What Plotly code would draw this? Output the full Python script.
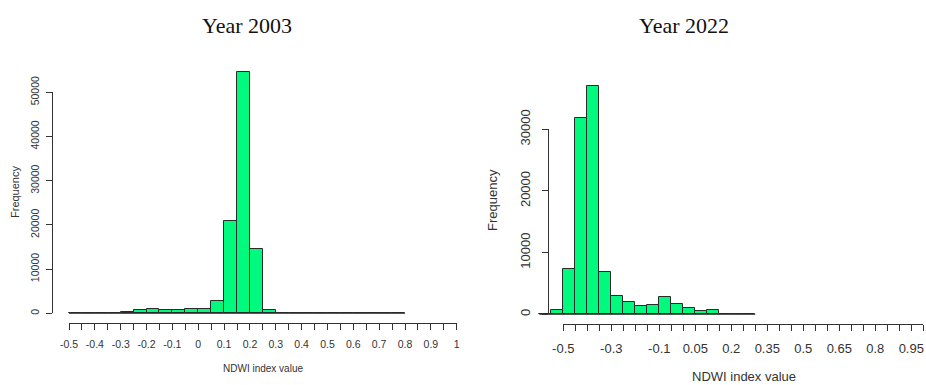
import numpy as np
import plotly.graph_objects as go

# ---------------- data ----------------
titles = ["Year 2003", "Year 2022"]
bin_width = 0.05
start_2003 = -0.5
counts_2003 = [0, 0, 0, 120, 380, 830, 980, 750, 750, 980, 980, 2870,
               20900, 54500, 14550, 680, 100, 60, 50, 50, 40, 0, 0, 0, 0, 0]
start_2022 = -0.6
counts_2022 = [0, 650, 7400, 31900, 37000, 6860, 3030, 1950, 1400, 1570,
               2810, 1680, 1080, 540, 650, 100, 30, 0]
xlabels_2003 = ["-0.5", "-0.4", "-0.3", "-0.2", "-0.1", "0", "0.1", "0.2", "0.3",
                "0.4", "0.5", "0.6", "0.7", "0.8", "0.9", "1"]
xlabels_2022 = ["-0.5", "-0.3", "-0.1", "0.05", "0.2", "0.35", "0.5", "0.65",
                "0.8", "0.95"]
yticks_2003 = [0, 10000, 20000, 30000, 40000, 50000]
yticks_2022 = [0, 10000, 20000, 30000]
x_axis_min, x_axis_max = -0.5, 1.0
xtitle = "NDWI index value"
ytitle = "Frequency"

W, H = 926, 385
FILL = "#00FA7D"
EDGE = "#2b2b2b"
AX = "#333333"
FONT = "Liberation Sans, Arial, sans-serif"


def px(x):
    return x / W


def py(y):
    return 1 - y / H


def tick_setup(labels):
    vals = np.round(np.arange(x_axis_min, x_axis_max + 1e-9, 0.05), 2)
    lab = {float(l): l for l in labels}
    text = [lab.get(float(v), "") for v in vals]
    return list(vals), text


fig = go.Figure()

# --------------- panel geometry (pixels) ---------------
panels = [
    dict(counts=counts_2003, start=start_2003, labels=xlabels_2003, yt=yticks_2003,
         k=258.4, xm05=69.0, s=44.2 / 10000, y0=313.3, yaxis_px=53.0,
         xline_px=323.0, bar_dom=(53, 462), bar_top=62, xdeco=(69, 456.7),
         fs_tick=10.5, fs_title=10, fs_freq=11, xt_x=263, xt_y=368, fr_x=15, fr_y=192,
         title_x=247, standoff_x=5, standoff_y=3),
    dict(counts=counts_2022, start=start_2022, labels=xlabels_2022, yt=yticks_2022,
         k=240.0, xm05=563.3, s=61.67 / 10000, y0=314.3, yaxis_px=549.3,
         xline_px=324.3, bar_dom=(530, 926), bar_top=70, xdeco=(563.3, 923.3),
         fs_tick=13, fs_title=13, fs_freq=13, xt_x=744, xt_y=376, fr_x=493, fr_y=200,
         title_x=684, standoff_x=6, standoff_y=7),
]

layout = dict(width=W, height=H, margin=dict(l=0, r=0, t=0, b=0, pad=0),
              autosize=False, template="none",
              paper_bgcolor="white", plot_bgcolor="rgba(0,0,0,0)",
              showlegend=False, bargap=0, barmode="overlay")
annotations = []

for i, p in enumerate(panels):
    n = 3 * i  # axis index base
    xb, yb = n + 1, n + 1          # bar axes
    xd = n + 2                     # decorative x axis (anchored to bar y)
    yd, xh = n + 3, n + 3          # decorative y axis and hidden partner x axis
    counts = p["counts"]
    centers = [p["start"] + bin_width * (j + 0.5) for j in range(len(counts))]
    xa = "x" if xb == 1 else f"x{xb}"
    ya = "y" if yb == 1 else f"y{yb}"
    fig.add_trace(go.Bar(x=centers, y=counts, width=bin_width, xaxis=xa, yaxis=ya,
                         marker=dict(color=FILL, line=dict(color=EDGE, width=1)),
                         hoverinfo="x+y"))
    edges = [p["start"], p["start"] + bin_width * len(counts)]
    fig.add_trace(go.Scatter(x=edges, y=[0, 0], mode="lines", xaxis=xa, yaxis=ya,
                             line=dict(color=EDGE, width=1), hoverinfo="skip"))

    k, s = p["k"], p["s"]
    d0, d1 = p["bar_dom"]
    xr = [-0.5 - (p["xm05"] - d0) / k, -0.5 + (d1 - p["xm05"]) / k]
    ybot, ytop = p["xline_px"], p["bar_top"]
    yr = [-(ybot - p["y0"]) / s, (p["y0"] - ytop) / s]

    kx = "xaxis" if xb == 1 else f"xaxis{xb}"
    ky = "yaxis" if yb == 1 else f"yaxis{yb}"
    layout[kx] = dict(domain=[px(d0), px(d1)], range=xr, visible=False,
                      anchor=ya, fixedrange=True, automargin=False)
    layout[ky] = dict(domain=[py(ybot), py(ytop)], range=yr, visible=False,
                      anchor=xa, fixedrange=True, automargin=False)

    # invisible helper traces so the decorative axes get drawn
    fig.add_trace(go.Scatter(x=[x_axis_min, x_axis_max], y=[0, 0], mode="lines",
                             xaxis=f"x{xd}", yaxis=ya, opacity=0,
                             line=dict(width=0), hoverinfo="skip"))
    ymax_tick = p["yt"][-1]
    fig.add_trace(go.Scatter(x=[0, 0], y=[0, ymax_tick], mode="lines",
                             xaxis=f"x{xh}", yaxis=f"y{yd}", opacity=0,
                             line=dict(width=0), hoverinfo="skip"))

    tv, tt = tick_setup(p["labels"])
    layout[f"xaxis{xd}"] = dict(
        domain=[px(p["xdeco"][0]), px(p["xdeco"][1])], range=[x_axis_min, x_axis_max],
        anchor=ya, showline=True, linecolor=AX, linewidth=1, ticks="outside",
        ticklen=6, tickwidth=1, tickcolor=AX, tickmode="array", tickvals=tv,
        ticktext=tt, showgrid=False, zeroline=False, ticklabelstandoff=p["standoff_x"],
        tickfont=dict(family=FONT, size=p["fs_tick"], color=AX), fixedrange=True,
        automargin=False)
    layout[f"xaxis{xh}"] = dict(domain=[px(p["yaxis_px"]), px(p["yaxis_px"] + 50)],
                                range=[0, 1], visible=False, anchor=f"y{yd}",
                                fixedrange=True, automargin=False)
    layout[f"yaxis{yd}"] = dict(
        domain=[py(p["y0"]), py(p["y0"] - ymax_tick * s)], range=[0, ymax_tick],
        anchor=f"x{xh}", showline=True, linecolor=AX, linewidth=1, ticks="outside",
        ticklen=6, tickwidth=1, tickcolor=AX, tickmode="array", tickvals=p["yt"],
        ticktext=[str(v) for v in p["yt"]], tickangle=-90, showgrid=False,
        zeroline=False, ticklabelstandoff=p["standoff_y"],
        tickfont=dict(family=FONT, size=p["fs_tick"], color=AX), fixedrange=True,
        automargin=False)

    annotations.append(dict(text=xtitle, x=px(p["xt_x"]),
                            y=py(p["xt_y"]), xref="paper", yref="paper",
                            showarrow=False, xanchor="center", yanchor="middle",
                            font=dict(family=FONT, size=p["fs_title"], color=AX)))
    annotations.append(dict(text=ytitle, x=px(p["fr_x"]), y=py(p["fr_y"]),
                            xref="paper", yref="paper", showarrow=False,
                            textangle=-90, xanchor="center", yanchor="middle",
                            font=dict(family=FONT, size=p["fs_freq"], color=AX)))
    annotations.append(dict(text=titles[i], x=px(p["title_x"]), y=py(25),
                            xref="paper", yref="paper", showarrow=False,
                            xanchor="center", yanchor="middle",
                            font=dict(family="Liberation Serif, Times New Roman, serif",
                                      size=22, color="#111111")))

layout["annotations"] = annotations
fig.update_layout(**layout)
fig.write_html("out.html", config={"displayModeBar": False},
               post_script="document.body.style.margin='0';document.body.style.padding='0';")
